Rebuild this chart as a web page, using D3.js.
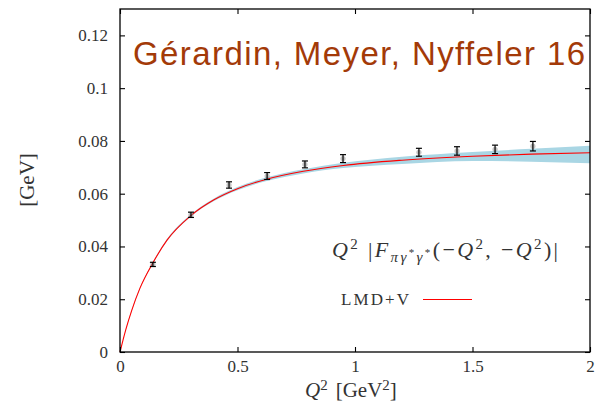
<!DOCTYPE html>
<html>
<head>
<meta charset="utf-8">
<script src="https://cdn.jsdelivr.net/npm/d3@7"></script>
<style>
  html, body { margin: 0; padding: 0; background: #fff; }
  svg { display: block; }
  .tick text { font-family: "Liberation Serif", "DejaVu Serif", serif; font-size: 17px; fill: #333; }
  .serif { font-family: "Liberation Serif", "DejaVu Serif", serif; fill: #333; }
</style>
</head>
<body>
<svg id="chart" width="598" height="412"></svg>
<script>
// Lattice data: Q^2 [GeV^2], Q^2 |F(-Q^2,-Q^2)| [GeV], statistical error
const latticeQ2  = [0.140, 0.302, 0.464, 0.626, 0.787, 0.949, 1.272, 1.434, 1.596, 1.757];
const latticeVal = [0.0332, 0.0520, 0.0633, 0.0667, 0.0711, 0.0733, 0.0757, 0.0762, 0.0768, 0.0780];
const latticeErr = [0.0008, 0.0010, 0.0012, 0.0013, 0.0013, 0.0015, 0.0015, 0.0016, 0.0016, 0.0018];

// LMD+V fit: central curve and its uncertainty band, on a common Q^2 grid
const fitQ2   = [0, 0.025, 0.05, 0.085, 0.14, 0.2, 0.3, 0.4, 0.5, 0.62, 0.78, 0.95, 1.2, 1.5, 1.75, 2.0];
const fitVal  = [0, 0.0086, 0.0158, 0.0242, 0.0338, 0.0424, 0.0516, 0.0577, 0.0619, 0.0654, 0.0685, 0.0707, 0.0727, 0.0742, 0.0750, 0.0755];
const fitLow  = [0, 0.0085, 0.0156, 0.0240, 0.0335, 0.0420, 0.0512, 0.0572, 0.0613, 0.0647, 0.0677, 0.0697, 0.0713, 0.0724, 0.0721, 0.0715];
const fitHigh = [0, 0.0087, 0.0160, 0.0244, 0.0341, 0.0428, 0.0520, 0.0582, 0.0625, 0.0661, 0.0693, 0.0717, 0.0740, 0.0758, 0.0770, 0.0782];

// Axis ticks
const xTicks = [0, 0.5, 1, 1.5, 2];
const xTickLabels = ["0", "0.5", "1", "1.5", "2"];
const yTicks = [0, 0.02, 0.04, 0.06, 0.08, 0.1, 0.12];
const yTickLabels = ["0", "0.02", "0.04", "0.06", "0.08", "0.1", "0.12"];

const svg = d3.select("#chart");
const mLeft = 120, mRight = 590, mTop = 9, mBottom = 352;

const x = d3.scaleLinear().domain([0, 2]).range([mLeft, mRight]);
const y = d3.scaleLinear().domain([0, 0.13]).range([mBottom, mTop]);

// error band
const band = d3.area()
  .x((d, i) => x(fitQ2[i]))
  .y0((d, i) => y(fitLow[i]))
  .y1((d, i) => y(fitHigh[i]))
  .curve(d3.curveMonotoneX);
svg.append("path")
  .datum(fitQ2)
  .attr("d", band)
  .attr("fill", "#a9d6e4");

// central fit curve
const line = d3.line()
  .x((d, i) => x(fitQ2[i]))
  .y((d, i) => y(fitVal[i]))
  .curve(d3.curveMonotoneX);
svg.append("path")
  .datum(fitQ2)
  .attr("d", line)
  .attr("fill", "none")
  .attr("stroke", "#ff0000")
  .attr("stroke-width", 1.1);

// lattice points with error bars
const pts = svg.append("g");
latticeQ2.forEach((q, i) => {
  const cx = x(q), cy = y(latticeVal[i]);
  const y1 = y(latticeVal[i] + latticeErr[i]);
  const y2 = y(latticeVal[i] - latticeErr[i]);
  pts.append("circle").attr("cx", cx).attr("cy", cy).attr("r", 2.6)
    .attr("fill", "#888").attr("opacity", 0.5);
  const g = pts.append("g").attr("stroke", "#000").attr("stroke-width", 1.2);
  g.append("line").attr("x1", cx).attr("x2", cx).attr("y1", y1).attr("y2", y2);
  g.append("line").attr("x1", cx - 3).attr("x2", cx + 3).attr("y1", y1).attr("y2", y1);
  g.append("line").attr("x1", cx - 3).attr("x2", cx + 3).attr("y1", y2).attr("y2", y2);
});

// axes with inward ticks, mirrored on top and right
const axB = d3.axisBottom(x).tickValues(xTicks).tickSize(-5).tickPadding(8)
  .tickFormat((d, i) => xTickLabels[i]);
const axL = d3.axisLeft(y).tickValues(yTicks).tickSize(-5).tickPadding(12)
  .tickFormat((d, i) => yTickLabels[i]);
const axT = d3.axisTop(x).tickValues(xTicks).tickSize(-5).tickFormat("");
const axR = d3.axisRight(y).tickValues(yTicks).tickSize(-5).tickFormat("");

[[axB, `translate(0,${mBottom})`], [axL, `translate(${mLeft},0)`],
 [axT, `translate(0,${mTop})`], [axR, `translate(${mRight},0)`]].forEach(([ax, tr]) => {
  const g = svg.append("g").attr("transform", tr).call(ax);
  g.select(".domain").remove();
  g.selectAll(".tick line").attr("stroke", "#000").attr("stroke-width", 1.1);
});

// frame
svg.append("rect")
  .attr("x", mLeft).attr("y", mTop)
  .attr("width", mRight - mLeft).attr("height", mBottom - mTop)
  .attr("fill", "none").attr("stroke", "#000").attr("stroke-width", 1.3);

// axis titles
svg.append("text").attr("class", "serif")
  .attr("transform", "translate(34,180) rotate(-90)")
  .attr("text-anchor", "middle").attr("font-size", 21)
  .text("[GeV]");

const xt = svg.append("text").attr("class", "serif")
  .attr("x", 305).attr("y", 397).attr("font-size", 21);
xt.append("tspan").attr("font-style", "italic").text("Q");
xt.append("tspan").attr("font-size", 15).attr("dy", -7).text("2");
xt.append("tspan").attr("dy", 7).attr("dx", 8).text("[GeV");
xt.append("tspan").attr("font-size", 15).attr("dy", -7).text("2");
xt.append("tspan").attr("dy", 7).text("]");

// title
svg.append("text")
  .attr("x", 133).attr("y", 65)
  .attr("font-family", "Liberation Sans, Arial, sans-serif")
  .attr("font-size", 33)
  .attr("fill", "#a33a08")
  .attr("textLength", 452).attr("lengthAdjust", "spacing")
  .text("Gérardin, Meyer, Nyffeler 16");

// formula label
const f = svg.append("text").attr("class", "serif")
  .attr("x", 332).attr("y", 257).attr("font-size", 22)
  .attr("textLength", 226).attr("lengthAdjust", "spacing");
f.append("tspan").attr("font-style", "italic").text("Q");
f.append("tspan").attr("font-size", 15).attr("dy", -8).text("2");
f.append("tspan").attr("dy", 8).text(" |");
f.append("tspan").attr("font-style", "italic").text("F");
f.append("tspan").attr("font-size", 15).attr("dy", 5).attr("font-style", "italic").text("πγ");
f.append("tspan").attr("font-size", 11).attr("dy", -6).text("*");
f.append("tspan").attr("font-size", 15).attr("dy", 6).attr("font-style", "italic").text("γ");
f.append("tspan").attr("font-size", 11).attr("dy", -6).text("*");
f.append("tspan").attr("dy", 1).text("(\u2212");
f.append("tspan").attr("font-style", "italic").text("Q");
f.append("tspan").attr("font-size", 15).attr("dy", -8).text("2");
f.append("tspan").attr("dy", 8).text(", \u2212");
f.append("tspan").attr("font-style", "italic").text("Q");
f.append("tspan").attr("font-size", 15).attr("dy", -8).text("2");
f.append("tspan").attr("dy", 8).text(")|");

// legend
svg.append("text").attr("class", "serif")
  .attr("x", 341).attr("y", 305).attr("font-size", 17)
  .attr("textLength", 68).attr("lengthAdjust", "spacing")
  .text("LMD+V");
svg.append("line")
  .attr("x1", 423).attr("x2", 472).attr("y1", 299.5).attr("y2", 299.5)
  .attr("stroke", "#ff0000").attr("stroke-width", 1.1);
</script>
</body>
</html>
